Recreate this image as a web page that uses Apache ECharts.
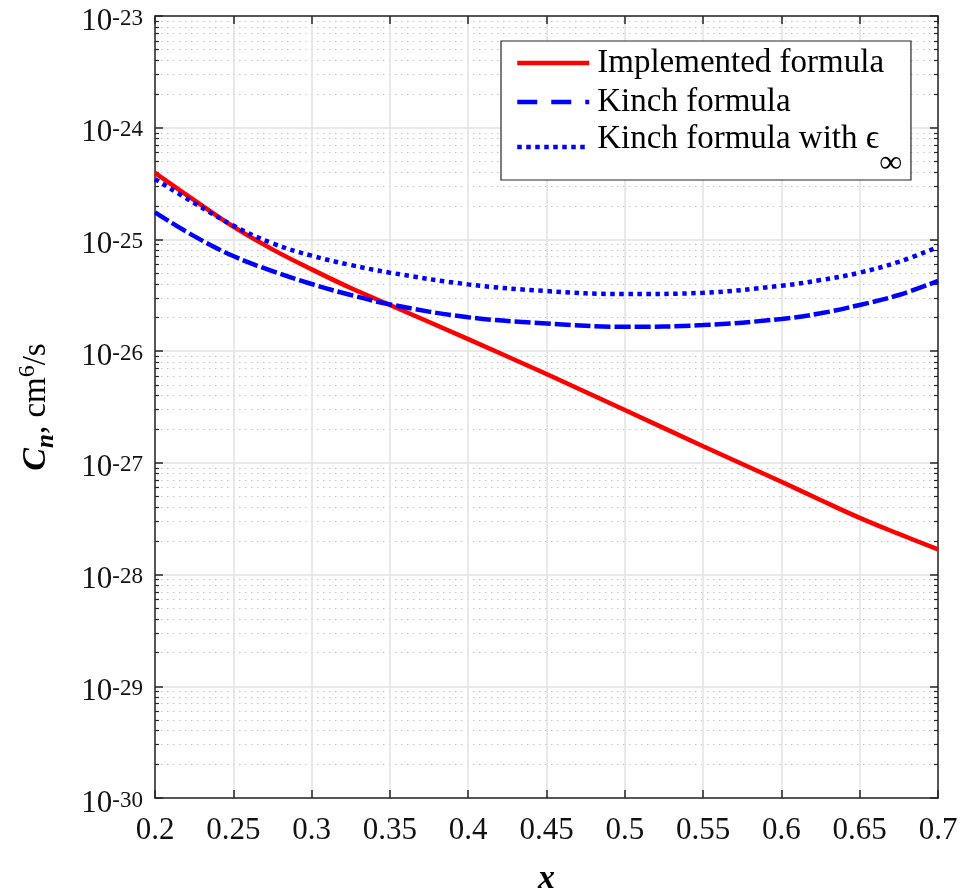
<!DOCTYPE html>
<html>
<head>
<meta charset="utf-8">
<script src="https://cdn.jsdelivr.net/npm/echarts@6/dist/echarts.min.js"></script>
<style>
html,body{margin:0;padding:0;background:#fff;}
#chart{width:962px;height:896px;}
</style>
</head>
<body>
<div id="chart"></div>
<script>
const xValues = [0.2, 0.225, 0.25, 0.275, 0.3, 0.325, 0.35, 0.4, 0.45, 0.5, 0.55, 0.6, 0.625, 0.65, 0.675, 0.7];
const implemented = [3.94e-25, 2.25e-25, 1.30e-25, 8.15e-26, 5.40e-26, 3.67e-26, 2.59e-26, 1.28e-26, 6.24e-27, 2.97e-27, 1.41e-27, 6.77e-28, 4.65e-28, 3.22e-28, 2.31e-28, 1.68e-28];
const kinch = [1.75e-25, 1.07e-25, 7.1e-26, 5.21e-26, 3.99e-26, 3.18e-26, 2.62e-26, 2.01e-26, 1.77e-26, 1.65e-26, 1.71e-26, 1.94e-26, 2.18e-26, 2.59e-26, 3.18e-26, 4.25e-26];
const kinchEps = [3.47e-25, 2.12e-25, 1.33e-25, 9.23e-26, 7.15e-26, 5.9e-26, 5.04e-26, 3.96e-26, 3.45e-26, 3.24e-26, 3.33e-26, 3.85e-26, 4.33e-26, 5.04e-26, 6.31e-26, 8.55e-26];
const seriesNames = ['Implemented formula', 'Kinch formula', 'Kinch formula with ϵ∞'];
const yDecades = [-30, -29, -28, -27, -26, -25, -24, -23];
const minorMultipliers = [2, 3, 4, 5, 6, 7, 8, 9];

const FONT = "'Liberation Serif', 'Times New Roman', 'DejaVu Serif', serif";
const minorExps = [];
for (let i = 0; i < yDecades.length - 1; i++) {
  for (const m of minorMultipliers) minorExps.push(yDecades[i] + Math.log10(m));
}
const pairs = arr => xValues.map((x, i) => [x, arr[i]]);
const yMinExp = yDecades[0], yMaxExp = yDecades[yDecades.length - 1];

const chart = echarts.init(document.getElementById('chart'), null, {renderer: 'canvas'});
const axisColor = '#262626';
const gridMajor = {show: true, lineStyle: {color: '#e2e2e2', width: 1.5}};
const majorLine = {show: true, onZero: false, lineStyle: {color: axisColor, width: 1.5}};
const majorTick = {show: true, inside: true, length: 8, lineStyle: {color: axisColor, width: 1.5}};
const option = {
  backgroundColor: '#fff',
  animation: false,
  grid: {left: 155, right: 24, top: 16, bottom: 98, containLabel: false, outerBoundsMode: 'none'},
  legend: {
    orient: 'vertical', left: 501, top: 41,
    padding: [4, 9, 0, 14],
    itemWidth: 72, itemHeight: 20, itemGap: 3,
    backgroundColor: '#fff', borderColor: axisColor, borderWidth: 1.2, borderRadius: 0,
    selectedMode: false,
    itemStyle: {opacity: 0},
    textStyle: {fontFamily: FONT, fontSize: 33, color: '#000', lineHeight: 36, padding: [0, 0, 0, 3],
      rich: {
        h: {fontFamily: FONT, fontSize: 10, lineHeight: 48, verticalAlign: 'top'},
        t: {fontFamily: FONT, fontSize: 33, color: '#000', lineHeight: 36, verticalAlign: 'top'},
        sub: {fontFamily: FONT, fontSize: 32, color: '#000', lineHeight: 20, verticalAlign: 'top', padding: [25, 0, 0, 0]}
      }},
    formatter: name => name === seriesNames[2] ? '{h|\u200b}{t|Kinch formula with ϵ}{sub|∞}' : name,
    data: [
      {name: seriesNames[0], itemStyle: {opacity: 0}, lineStyle: {width: 4.5}},
      {name: seriesNames[1], itemStyle: {opacity: 0}, lineStyle: {width: 4.5, type: [20, 14]}},
      {name: seriesNames[2], itemStyle: {opacity: 0}, lineStyle: {width: 4.5, type: [4.5, 4.5]}}
    ]
  },
  xAxis: [
    {
      type: 'value', min: 0.2, max: 0.7, interval: 0.05, position: 'bottom',
      axisLine: majorLine, axisTick: majorTick,
      splitLine: gridMajor,
      axisLabel: {fontFamily: FONT, fontSize: 31, color: '#111', margin: 17},
      name: 'x', nameLocation: 'middle', nameGap: 64, nameMoveOverlap: false,
      nameTextStyle: {fontFamily: FONT, fontSize: 34, fontWeight: 'bold', fontStyle: 'italic', color: '#000'}
    },
    {
      type: 'value', min: 0.2, max: 0.7, interval: 0.05, position: 'top',
      axisLine: majorLine, axisTick: majorTick,
      splitLine: {show: false}, axisLabel: {show: false}
    }
  ],
  yAxis: [
    {
      type: 'log', logBase: 10, min: Math.pow(10, yMinExp), max: Math.pow(10, yMaxExp), position: 'left',
      axisLine: {show: false}, axisTick: {show: false}, splitLine: {show: false}, axisLabel: {show: false}
    },
    {
      type: 'value', min: yMinExp, max: yMaxExp, interval: 1, position: 'left',
      axisLine: majorLine, axisTick: majorTick,
      splitLine: gridMajor,
      axisLabel: {
        margin: 12, padding: [12, 0, 0, 0],
        fontFamily: FONT, fontSize: 31, color: '#111',
        formatter: v => '{b|10}{s|' + v + '}',
        rich: {
          b: {fontFamily: FONT, fontSize: 31, color: '#111', lineHeight: 30, verticalAlign: 'bottom'},
          s: {fontFamily: FONT, fontSize: 23, color: '#111', lineHeight: 20, verticalAlign: 'top', padding: [0, 0, 17, 0]}
        }
      },
      name: '{c|C}{n|n}{r|, cm}{p|6}{r|/s}', nameLocation: 'middle', nameGap: 97, nameRotate: 90, nameMoveOverlap: false,
      nameTextStyle: {
        fontFamily: FONT, fontSize: 33, color: '#000',
        rich: {
          c: {fontFamily: FONT, fontSize: 34, fontWeight: 'bold', fontStyle: 'italic', color: '#000', lineHeight: 44, verticalAlign: 'middle'},
          n: {fontFamily: FONT, fontSize: 25, fontWeight: 'bold', fontStyle: 'italic', color: '#000', lineHeight: 24, verticalAlign: 'top', padding: [20, 0, 0, 0]},
          r: {fontFamily: FONT, fontSize: 33, color: '#000', lineHeight: 44, verticalAlign: 'middle'},
          p: {fontFamily: FONT, fontSize: 24, color: '#000', lineHeight: 24, verticalAlign: 'top', padding: [2, 0, 0, 0]}
        }
      }
    },
    {
      type: 'value', min: yMinExp, max: yMaxExp, interval: 1, position: 'right',
      axisLine: majorLine, axisTick: majorTick,
      splitLine: {show: false}, axisLabel: {show: false}
    },
    {
      type: 'value', min: yMinExp, max: yMaxExp, position: 'left',
      axisLine: {show: false},
      axisTick: {show: true, inside: true, length: 4, customValues: minorExps, lineStyle: {color: axisColor, width: 1.2}},
      splitLine: {show: true, lineStyle: {color: '#c4c4c4', width: 1.2, type: [1.5, 4.5]}},
      axisLabel: {show: false, customValues: minorExps}
    },
    {
      type: 'value', min: yMinExp, max: yMaxExp, position: 'right',
      axisLine: {show: false},
      axisTick: {show: true, inside: true, length: 4, customValues: minorExps, lineStyle: {color: axisColor, width: 1.2}},
      splitLine: {show: false},
      axisLabel: {show: false, customValues: minorExps}
    }
  ],
  series: [
    {name: seriesNames[0], type: 'line', data: pairs(implemented), xAxisIndex: 0, yAxisIndex: 0,
     symbol: 'none', smooth: 0.4, z: 3, lineStyle: {color: '#ff0000', width: 4.5}, itemStyle: {color: '#ff0000'}},
    {name: seriesNames[1], type: 'line', data: pairs(kinch), xAxisIndex: 0, yAxisIndex: 0,
     symbol: 'none', smooth: 0.4, z: 4, lineStyle: {color: '#0000ff', width: 4.5, type: [16, 4]}, itemStyle: {color: '#0000ff'}},
    {name: seriesNames[2], type: 'line', data: pairs(kinchEps), xAxisIndex: 0, yAxisIndex: 0,
     symbol: 'none', smooth: 0.4, z: 5, lineStyle: {color: '#0000ff', width: 4.5, type: [4.5, 4.5]}, itemStyle: {color: '#0000ff'}}
  ]
};
chart.setOption(option);
</script>
</body>
</html>
